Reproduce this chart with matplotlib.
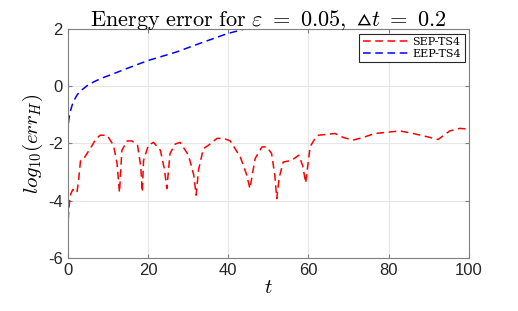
import matplotlib
matplotlib.use("Agg")
import matplotlib.pyplot as plt
import numpy as np

plt.rcParams['mathtext.fontset'] = 'cm'
plt.rcParams['axes.unicode_minus'] = False
plt.rcParams['font.family'] = ['Liberation Sans', 'DejaVu Sans']

# SEP-TS4 (red)
t_sep = [0.0, 0.15, 0.3, 0.55, 0.8, 1.3, 1.8, 2.3, 2.7, 3.2, 4.0, 5.6, 7.0, 8.1, 9.8, 11.4, 12.3, 12.9,
         13.5, 14.8, 16.0, 17.4, 18.2, 18.6, 18.9, 20.1, 21.4, 23.1, 24.1, 24.7, 25.5, 26.8, 28.0, 30.1,
         31.4, 32.0, 32.6, 33.8, 35.1, 37.2, 38.9, 40.5, 43.0, 44.6, 45.4, 46.7, 48.4, 49.6, 50.8, 51.6,
         52.1, 52.7, 53.7, 55.8, 57.6, 58.6, 59.3, 60.4, 61.5, 62.5, 66.6, 68.7, 71.1, 73.6, 76.5, 79.4,
         82.8, 86.1, 89.8, 92.3, 95.2, 97.7, 100.0]
y_sep = [-4.1, -4.6, -4.3, -3.9, -3.75, -3.61, -3.65, -3.72, -3.3, -2.59, -2.53, -2.18, -1.85, -1.71, -1.71, -2.06, -2.7, -3.72,
         -2.24, -1.91, -1.91, -2.06, -2.8, -3.7, -2.6, -2.06, -1.96, -2.24, -2.9, -3.58, -2.35, -2.02, -1.96, -2.41,
         -3.1, -3.81, -2.93, -2.18, -2.06, -1.82, -1.82, -1.91, -2.47, -3.1, -3.58, -2.53, -2.12, -2.12, -2.35, -3.1,
         -3.93, -3.2, -2.65, -2.59, -2.41, -2.8, -3.38, -2.12, -1.85, -1.71, -1.65, -1.79, -1.88, -1.79, -1.65, -1.61,
         -1.56, -1.65, -1.77, -1.86, -1.56, -1.47, -1.5]

# EEP-TS4 (blue)
t_eep = [0.0, 0.25, 0.6, 1.1, 1.6, 2.3, 3.0, 4.0, 5.0, 6.5, 8.5, 10.6, 14.8, 19.9, 27.2, 33.0, 39.6, 43.8, 46.0]
y_eep = [-1.71, -1.18, -0.9, -0.66, -0.48, -0.31, -0.18, -0.07, 0.04, 0.16, 0.29, 0.40, 0.63, 0.90, 1.21, 1.51, 1.84, 2.0, 2.12]

x_ticks = [0, 20, 40, 60, 80, 100]
y_ticks = [-6, -4, -2, 0, 2]

fig = plt.figure(figsize=(5.18, 3.11), dpi=100)
ax = fig.add_axes([0.1307, 0.1714, 0.7747, 0.7344])

ax.plot(t_sep, y_sep, color='red', linestyle=(0, (5, 3)), lw=1.1, label='SEP-TS4')
ax.plot(t_eep, y_eep, color='blue', linestyle=(0, (5, 3)), lw=1.1, label='EEP-TS4')

ax.set_xlim(0, 100)
ax.set_ylim(-6, 2)
ax.set_xticks(x_ticks)
ax.set_yticks(y_ticks)
ax.grid(True, color='#e6e6e6', lw=0.8)
ax.set_axisbelow(True)
for s in ax.spines.values():
    s.set_color('#808080')
    s.set_linewidth(0.8)
ax.tick_params(direction='in', length=3, color='#808080', labelsize=12, top=True, right=True, labelcolor='#262626')

ax.set_xlabel(r'$t$', fontsize=15, labelpad=0)
ax.set_ylabel(r'$log_{10}(err_H)$', fontsize=15, labelpad=2)
ax.set_title(r'$\mathrm{Energy\ error\ for\ }\varepsilon\ =\ 0.05,\ \vartriangle t\ =\ 0.2$', fontsize=16, pad=3)

leg = ax.legend(loc='upper right', prop={'family': 'serif', 'size': 8}, frameon=True, fancybox=False,
                edgecolor='#262626', framealpha=1, borderpad=0.3, handlelength=4.2, borderaxespad=0.4,
                labelspacing=0.15, handletextpad=0.3)
leg.get_frame().set_linewidth(0.8)
for txt in leg.get_texts():
    txt.set_fontfamily('DejaVu Serif')

fig.savefig('out.png', dpi=100)
